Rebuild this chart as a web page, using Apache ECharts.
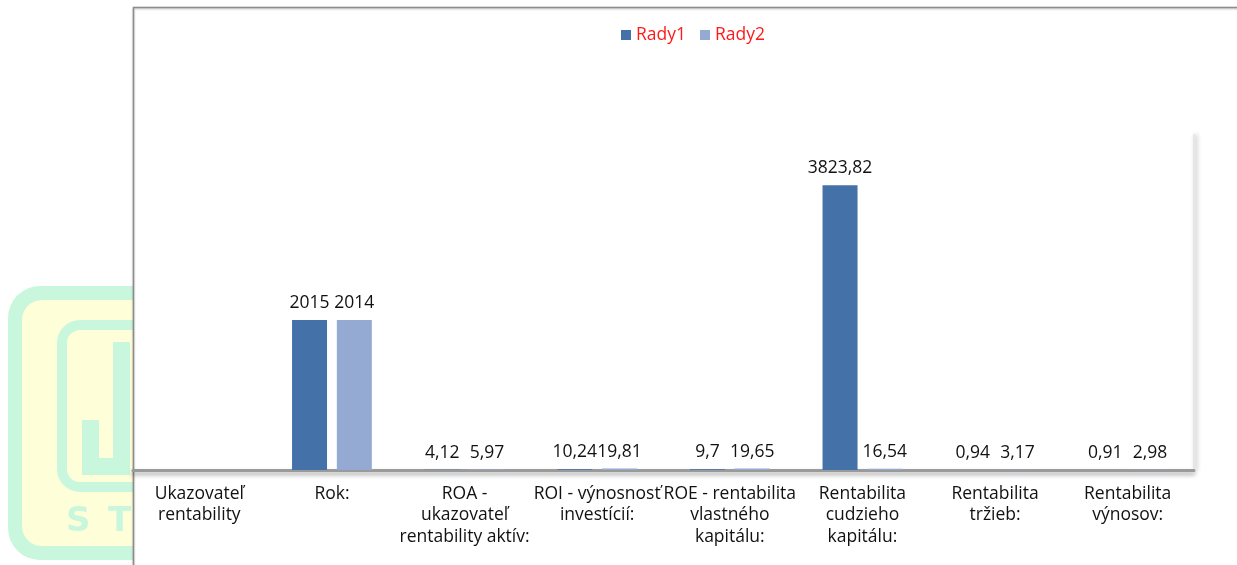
<!DOCTYPE html>
<html>
<head>
<meta charset="utf-8">
<script src="https://cdn.jsdelivr.net/npm/echarts@6/dist/echarts.min.js"></script>
<style>
html,body{margin:0;padding:0;background:#fff;}
#c{width:1237px;height:565px;}
</style>
</head>
<body>
<div id="c"></div>
<script>
const categories = [
  'Ukazovateľ\nrentability',
  'Rok:',
  'ROA -\nukazovateľ\nrentability aktív:',
  'ROI - výnosnosť\ninvestícií:',
  'ROE - rentabilita\nvlastného\nkapitálu:',
  'Rentabilita\ncudzieho\nkapitálu:',
  'Rentabilita\ntržieb:',
  'Rentabilita\nvýnosov:'
];
const rady1 = [null, 2015, 4.12, 10.24, 9.7, 3823.82, 0.94, 0.91];
const rady2 = [null, 2014, 5.97, 19.81, 19.65, 16.54, 3.17, 2.98];
const seriesNames = ['Rady1', 'Rady2'];

const FONT = '"Open Sans", "Noto Sans", sans-serif';
const FS = 17.5;
const chart = echarts.init(document.getElementById('c'), null, {renderer: 'canvas'});

const labelFmt = p => (p.value == null ? '' : String(p.value).replace('.', ','));

const green = '#c9f7dd', yellow = '#fefed9';

chart.setOption({
  animation: false,
  backgroundColor: '#ffffff',
  graphic: [
    // watermark logo
    {type: 'rect', z: -10, shape: {x: 8, y: 286, width: 240, height: 274, r: 32}, style: {fill: green}},
    {type: 'rect', z: -9, shape: {x: 22, y: 300, width: 220, height: 246, r: 20}, style: {fill: yellow}},
    {type: 'rect', z: -8, shape: {x: 62, y: 325, width: 200, height: 162, r: 18}, style: {fill: 'none', stroke: green, lineWidth: 10}},
    {type: 'rect', z: -8, shape: {x: 82, y: 420, width: 17, height: 55}, style: {fill: green}},
    {type: 'rect', z: -8, shape: {x: 113, y: 342, width: 17, height: 133}, style: {fill: green}},
    {type: 'rect', z: -8, shape: {x: 82, y: 458, width: 48, height: 17}, style: {fill: green}},
    {type: 'text', z: -8, style: {x: 66, y: 505, text: 'S', fill: green, font: 'bold 34px "DejaVu Sans", sans-serif'}},
    {type: 'text', z: -8, style: {x: 108, y: 505, text: 'T', fill: green, font: 'bold 34px "DejaVu Sans", sans-serif'}},
    // chart frame
    {type: 'rect', z: -5, shape: {x: 133.5, y: 7.5, width: 1200, height: 600}, style: {fill: '#ffffff', stroke: '#8c8c8c', lineWidth: 1.5, shadowBlur: 2, shadowColor: 'rgba(0,0,0,0.25)', shadowOffsetY: 1}}
  ],
  legend: {
    left: 616,
    top: 21,
    itemWidth: 10,
    itemHeight: 10,
    itemGap: 14,
    icon: 'rect',
    textStyle: {color: '#ff1a1a', fontSize: FS, fontFamily: FONT},
    data: seriesNames
  },
  grid: {left: 133, right: 43, top: 135, bottom: 95, containLabel: false},
  xAxis: {
    type: 'category',
    data: categories,
    axisTick: {show: false},
    axisLine: {show: true, lineStyle: {color: '#9a9a9a', width: 3, shadowColor: 'rgba(0,0,0,0.35)', shadowBlur: 4, shadowOffsetY: 3}},
    axisLabel: {interval: 0, color: '#111', fontSize: FS, fontFamily: FONT, lineHeight: 21.5, margin: 13}
  },
  yAxis: {
    type: 'value',
    min: 0,
    max: 4500,
    interval: 500,
    position: 'right',
    axisLabel: {show: false},
    axisTick: {show: false},
    splitLine: {show: false},
    axisLine: {show: true, lineStyle: {color: '#e6e6e6', width: 2, shadowColor: 'rgba(0,0,0,0.3)', shadowBlur: 4, shadowOffsetX: 2}}
  },
  series: [
    {
      name: seriesNames[0], type: 'bar', data: rady1, barWidth: 35, barGap: '28%',
      itemStyle: {color: '#4571a9'},
      label: {show: true, position: 'top', distance: 8, color: '#111', fontSize: FS, fontFamily: FONT, formatter: labelFmt}
    },
    {
      name: seriesNames[1], type: 'bar', data: rady2, barWidth: 35,
      itemStyle: {color: '#94aad2'},
      label: {show: true, position: 'top', distance: 8, color: '#111', fontSize: FS, fontFamily: FONT, formatter: labelFmt}
    }
  ]
});
</script>
</body>
</html>
